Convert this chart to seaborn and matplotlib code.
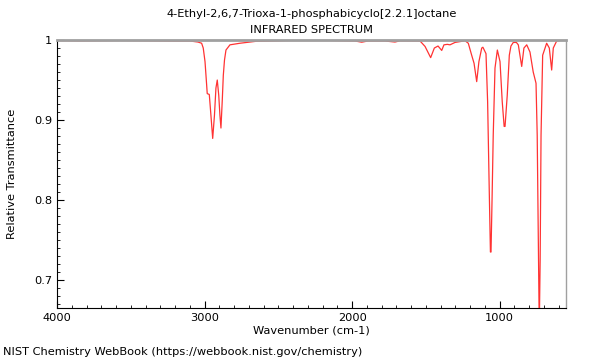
import matplotlib
matplotlib.use("Agg")
import matplotlib.pyplot as plt
from matplotlib.ticker import MultipleLocator, FormatStrFormatter
import seaborn as sns
import pandas as pd

# spectrum
wavenumber = [
    4000, 3844, 3573, 3370, 3200, 3099, 3045, 3020, 3009, 2997, 2986, 2982,
    2968, 2957, 2945, 2933, 2923, 2914, 2904, 2896, 2889, 2880, 2873, 2865,
    2855, 2828, 2760, 2647, 2421, 2150, 1981, 1935, 1893, 1778, 1710, 1676,
    1540, 1506, 1468, 1443, 1418, 1393, 1378, 1355, 1337, 1303, 1235, 1213,
    1190, 1174, 1156, 1141, 1122, 1114, 1093, 1082, 1071, 1063, 1059, 1052, 1044,
    1032, 1016, 998, 983, 970, 964, 949, 935, 924, 908, 887, 874, 863, 851, 836,
    817, 795, 773, 754, 746, 737, 732, 726, 720, 709, 682, 664, 648, 637,
    614, 571, 551,
]
transmittance = [
    0.9994, 0.999, 0.9994, 0.9991, 0.9988, 0.9988, 0.9975, 0.996, 0.990, 0.973, 0.944, 0.933,
    0.932, 0.906, 0.877, 0.906, 0.940, 0.950, 0.931, 0.906, 0.890, 0.925, 0.956, 0.975,
    0.9875, 0.994, 0.996, 0.9985, 0.9994, 0.9994, 0.9988, 0.9973, 0.9988, 0.9988, 0.9975, 0.999,
    0.9988, 0.992, 0.978, 0.990, 0.9925, 0.987, 0.994, 0.9946, 0.994, 0.997, 0.9991, 0.996,
    0.981, 0.971, 0.948, 0.973, 0.990, 0.991, 0.983, 0.923, 0.8125, 0.735, 0.735, 0.800, 0.881,
    0.965, 0.9875, 0.973, 0.923, 0.892, 0.892, 0.931, 0.981, 0.9925, 0.997, 0.997, 0.994, 0.981, 0.967, 0.990,
    0.994, 0.985, 0.960, 0.946, 0.881, 0.725, 0.640, 0.725, 0.881, 0.981, 0.996, 0.990, 0.9625, 0.990,
    0.9988, 1.0, 1.0,
]

title_lines = ["4-Ethyl-2,6,7-Trioxa-1-phosphabicyclo[2.2.1]octane", "INFRARED SPECTRUM"]
footer = "NIST Chemistry WebBook (https://webbook.nist.gov/chemistry)"

sns.set_style("ticks")
plt.rcParams['font.family'] = ['DejaVu Sans']
plt.rcParams['text.color'] = 'black'
plt.rcParams['axes.labelcolor'] = 'black'
plt.rcParams['xtick.color'] = 'black'
plt.rcParams['ytick.color'] = 'black'
FS = 8.2

df = pd.DataFrame({'wn': wavenumber, 'T': transmittance})

fig = plt.figure(figsize=(6, 3.6), dpi=100)
ax = fig.add_axes([0.095, 0.1444, 0.8483, 0.7444])

sns.lineplot(data=df, x='wn', y='T', ax=ax, sort=False, estimator=None,
             color='#ff3333', linewidth=0.9)

ax.set_xlim(4000, 551)
ax.set_ylim(0.665, 1.0)

ax.xaxis.set_major_locator(MultipleLocator(1000))
ax.xaxis.set_minor_locator(MultipleLocator(100))
ax.yaxis.set_major_locator(MultipleLocator(0.1))
ax.yaxis.set_minor_locator(MultipleLocator(0.01))
ax.xaxis.set_major_formatter(FormatStrFormatter('%d'))
ax.yaxis.set_major_formatter(plt.FuncFormatter(lambda v, p: f"{v:g}"))

ax.tick_params(which='major', direction='in', length=5, width=0.8, labelsize=FS,
               top=False, right=False, color='black')
ax.tick_params(which='minor', direction='in', length=2.5, width=0.6,
               top=False, right=False)

for side in ['left', 'bottom']:
    ax.spines[side].set_color('black')
    ax.spines[side].set_linewidth(0.8)
ax.spines['top'].set_color('#a0a0a0')
ax.spines['top'].set_linewidth(2)
ax.spines['right'].set_color('#a0a0a0')
ax.spines['right'].set_linewidth(1)

ax.set_xlabel('Wavenumber (cm-1)', fontsize=FS, labelpad=2)
ax.set_ylabel('Relative Transmittance', fontsize=FS, labelpad=12)

fig.text(0.519, 0.96, title_lines[0], ha='center', va='center', fontsize=FS)
fig.text(0.519, 0.917, title_lines[1], ha='center', va='center', fontsize=FS)
fig.text(0.005, 0.022, footer, ha='left', va='center', fontsize=FS)

fig.savefig('out.png', dpi=100, facecolor='white')
